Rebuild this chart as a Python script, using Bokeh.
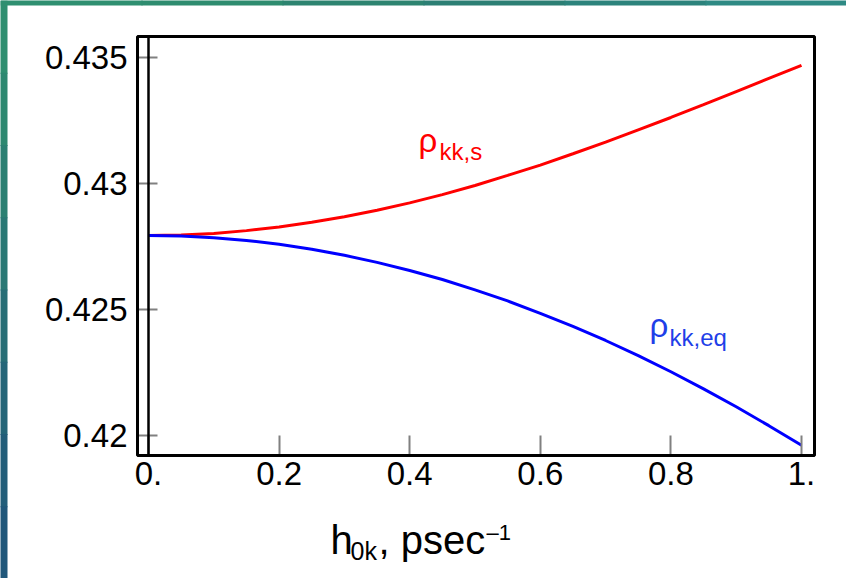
from bokeh.plotting import figure
from bokeh.models import FixedTicker, Label, BoxAnnotation, Range1d, LinearAxis
from bokeh.embed import file_html
from bokeh.resources import INLINE

# ---- data ----
h0k = [0.0, 0.05, 0.1, 0.15, 0.2, 0.25, 0.3, 0.35, 0.4, 0.45, 0.5,
       0.55, 0.6, 0.65, 0.7, 0.75, 0.8, 0.85, 0.9, 0.95, 1.0]
rho_kk_s = [0.42794, 0.42796, 0.42802, 0.42813, 0.42827, 0.42846, 0.42868,
            0.42894, 0.42923, 0.42956, 0.42992, 0.43032, 0.43073, 0.43118,
            0.43164, 0.43213, 0.43262, 0.43313, 0.43365, 0.43417, 0.43469]
rho_kk_eq = [0.42794, 0.42792, 0.42785, 0.42774, 0.42759, 0.42739, 0.42715,
             0.42687, 0.42655, 0.42619, 0.42578, 0.42534, 0.42485, 0.42433,
             0.42377, 0.42317, 0.42253, 0.42185, 0.42114, 0.42039, 0.41961]
x_ticks = [0.0, 0.2, 0.4, 0.6, 0.8, 1.0]
x_tick_labels = ["0.", "0.2", "0.4", "0.6", "0.8", "1."]
y_ticks = [0.42, 0.425, 0.43, 0.435]
y_tick_labels = ["0.42", "0.425", "0.43", "0.435"]

FONT = "Liberation Sans"
W, H = 846, 578

# whole canvas is the frame; the plot box is drawn inside it
X0, X1 = -0.226646, 1.068913
Y0, Y1 = 0.4143254, 0.4372619


def xd(px):
    return X0 + px * (X1 - X0) / W


def yd(py):
    return Y1 - py * (Y1 - Y0) / H


BOX_L, BOX_R, BOX_T, BOX_B = xd(137), xd(814), yd(36), yd(455)

p = figure(width=W, height=H,
           x_range=Range1d(X0, X1), y_range=Range1d(Y0, Y1),
           output_backend="svg", toolbar_location=None,
           min_border_left=0, min_border_right=0,
           min_border_top=0, min_border_bottom=0)

p.background_fill_color = "white"
p.border_fill_color = "white"
p.outline_line_color = None
p.grid.visible = False

p.xaxis.ticker = FixedTicker(ticks=x_ticks)
p.xaxis.major_label_overrides = dict(zip(x_ticks, x_tick_labels))
p.xaxis.fixed_location = BOX_B
p.xaxis.bounds = (BOX_L, BOX_R)
p.yaxis.ticker = FixedTicker(ticks=y_ticks)
p.yaxis.major_label_overrides = dict(zip(y_ticks, y_tick_labels))
p.yaxis.fixed_location = BOX_L
p.yaxis.bounds = (BOX_B, BOX_T)

for ax in (p.xaxis, p.yaxis):
    ax.major_tick_in = 20
    ax.major_tick_out = 0
    ax.minor_tick_line_color = None
    ax.major_tick_line_color = "#808080"
    ax.major_tick_line_width = 2
    ax.axis_line_color = None
    ax.major_label_text_font = FONT
    ax.major_label_text_font_size = "33px"
    ax.major_label_text_color = "black"
p.xaxis.major_label_standoff = 6
p.yaxis.major_label_standoff = 10

# frame box
p.add_layout(BoxAnnotation(left=BOX_L, right=BOX_R, bottom=BOX_B, top=BOX_T,
                           fill_color=None, fill_alpha=0,
                           line_color="black", line_alpha=1, line_width=3))

# vertical axis line at h = 0
zero_axis = LinearAxis(fixed_location=0, bounds=(BOX_B, BOX_T),
                       ticker=FixedTicker(ticks=[]),
                       axis_line_color="black", axis_line_width=2.5,
                       major_tick_line_color=None, minor_tick_line_color=None,
                       major_label_text_font_size="0px")
p.add_layout(zero_axis, "left")

p.line(h0k, rho_kk_s, line_color="#FF0000", line_width=3)
p.line(h0k, rho_kk_eq, line_color="#0000FF", line_width=3)


def lab(px, baseline, text, size, color):
    # text_baseline "middle": centre of the text box sits ~0.35 em above baseline
    p.add_layout(Label(x=xd(px), y=yd(baseline - 0.35 * size), text=text,
                       text_font=FONT, text_font_size=f"{size}px",
                       text_color=color, text_baseline="middle",
                       text_align="left"))


RED, BLUE = "#FF0000", "#1F3FE8"
# curve labels
lab(418, 152, "ρ", 33, RED)
lab(439, 159, "kk,s", 24, RED)
lab(649, 337, "ρ", 33, BLUE)
lab(669, 345, "kk,eq", 24, BLUE)

# axis label  h_0k, psec^-1
lab(330, 553, "h", 40, "black")
lab(350, 559, "0k", 25, "black")
lab(378, 553, ", psec", 40, "black")
lab(486, 540, "\u20131", 22, "black")

# background strips (top and left)
top_cols = ["#2f8f70", "#2e8c6f", "#2d8470", "#2c7f74", "#2c837c", "#2e8a84"]
n = len(top_cols)
for i, c in enumerate(top_cols):
    p.add_layout(BoxAnnotation(left=xd(i * W / n), right=xd((i + 1) * W / n + 1),
                               top=yd(-2), bottom=yd(5),
                               fill_color=c, fill_alpha=1, line_color=None))
left_cols = ["#2f8f70", "#2d8870", "#2b8072", "#297874", "#276e76", "#246578",
             "#225d79", "#20577a"]
m = len(left_cols)
for i, c in enumerate(left_cols):
    p.add_layout(BoxAnnotation(left=xd(-2), right=xd(7),
                               top=yd(i * H / m), bottom=yd((i + 1) * H / m + 1),
                               fill_color=c, fill_alpha=1, line_color=None))

open("out.html", "w").write(file_html(p, INLINE))
